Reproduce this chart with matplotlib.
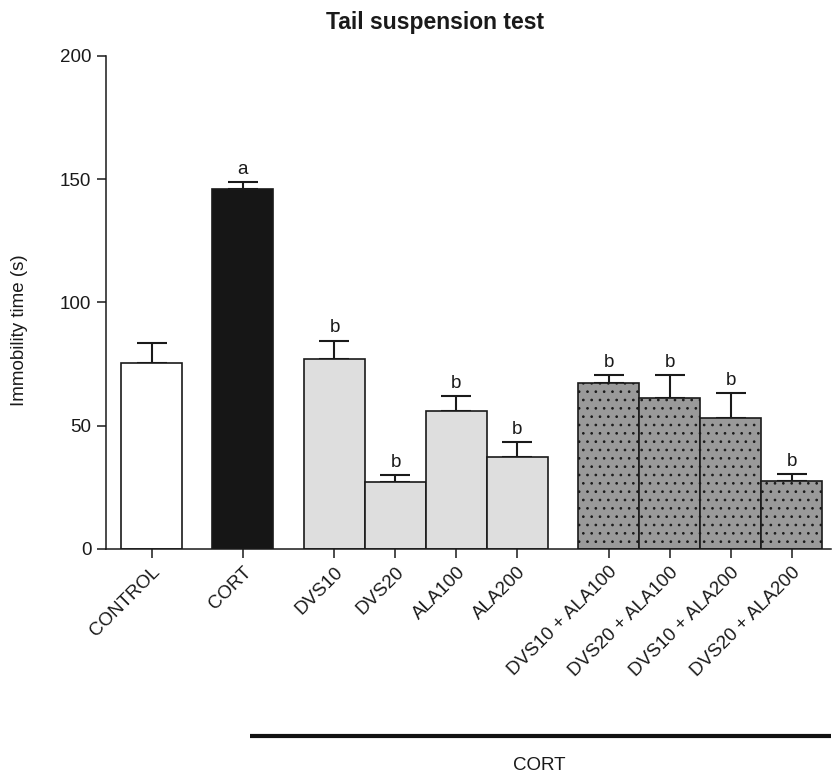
import numpy as np
import matplotlib
matplotlib.use("Agg")
import matplotlib.pyplot as plt

plt.rcParams['font.family'] = ['Liberation Sans', 'DejaVu Sans']
plt.rcParams['hatch.linewidth'] = 0.7

# ========= DATA =========
groups = ["CONTROL", "CORT", "DVS10", "DVS20", "ALA100", "ALA200",
          "DVS10 + ALA100", "DVS20 + ALA100", "DVS10 + ALA200", "DVS20 + ALA200"]
means = [75.3, 146.0, 76.9, 27.3, 55.8, 37.4, 67.2, 61.2, 53.1, 27.4]
sem = [8.2, 2.8, 7.6, 2.7, 6.1, 5.8, 3.2, 9.2, 10.1, 2.9]
letters = ["", "a", "b", "b", "b", "b", "b", "b", "b", "b"]
y_ticks = [0, 50, 100, 150, 200]

# ========= STYLE =========
fills = ["white", "#161616"] + ["#dedede"] * 4 + ["#9a9a9a"] * 4
hatches = [None, None, None, None, None, None, "..", "..", "..", ".."]
EDGE = "#1a1a1a"
FS = 13.5

# bar positions: gap of 0.5 between blocks
block = [0, 1, 2, 2, 2, 2, 3, 3, 3, 3]
x = []
prev = None
pos = -1.0
for b in block:
    pos += 1.0 if b == prev or prev is None else 1.5
    x.append(pos)
    prev = b
x = np.array(x)

fig = plt.figure(figsize=(8.32, 7.73), dpi=100)
ax = fig.add_axes([0.1274, 0.2898, 0.8714, 0.638])

ax.errorbar(x, means, yerr=[np.zeros(len(sem)), sem], fmt="none",
            ecolor=EDGE, elinewidth=1.5, capsize=10.5, capthick=1.5, zorder=1)
for xi, m, c, h in zip(x, means, fills, hatches):
    ax.bar(xi, m, width=1.0, color=c, edgecolor=EDGE, linewidth=1.2,
           hatch=h, zorder=2)

for xi, m, e, t in zip(x, means, sem, letters):
    if t:
        ax.annotate(t, (xi, m + e), xytext=(0, 3), textcoords="offset points",
                    ha="center", va="bottom", fontsize=FS, color="#1a1a1a")

ax.set_xlim(-0.746, 11.14)
ax.set_ylim(0, 200)
ax.set_yticks(y_ticks)
ax.set_xticks(x)
ax.set_xticklabels(groups, rotation=45, ha="right", va="top",
                   rotation_mode="anchor", fontsize=FS, color="#1a1a1a")
ax.tick_params(axis="y", labelsize=FS, labelcolor="#1a1a1a")
ax.tick_params(axis="both", direction="out", length=6.5, width=1.1,
               color=EDGE, pad=4)
for s in ["top", "right"]:
    ax.spines[s].set_visible(False)
for s in ["left", "bottom"]:
    ax.spines[s].set_linewidth(1.1)
    ax.spines[s].set_color(EDGE)

fig.text(20 / 832, 1 - 330 / 773, "Immobility time (s)", rotation=90,
         ha="center", va="center", fontsize=FS, color="#1a1a1a")
fig.text(435 / 832, 1 - 23 / 773, "Tail suspension test", ha="center",
         va="center", fontsize=16.5, fontweight="bold", color="#1a1a1a")

# CORT bracket under treated groups
ax.plot([1.61, 11.14], [-0.380, -0.380], color="#111111", linewidth=3,
        transform=ax.get_xaxis_transform(), clip_on=False, solid_capstyle="butt")
ax.text(539 / 832, 1 - 765 / 773, "CORT", transform=fig.transFigure,
        ha="center", va="center", fontsize=FS, color="#1a1a1a")

fig.savefig("out.png", dpi=100)
